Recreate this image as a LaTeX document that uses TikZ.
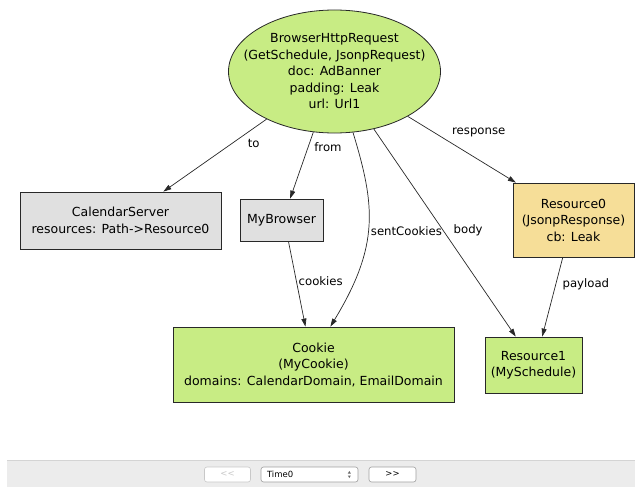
\documentclass[tikz,border=0pt]{standalone}
\usepackage{fontspec}
\setmainfont{DejaVu Sans}
\usepackage{tikz}
\usetikzlibrary{shapes.geometric, arrows.meta, positioning, calc}
\definecolor{mygreen}{RGB}{200,236,132}
\definecolor{mywheat}{RGB}{246,222,152}
\definecolor{mygray}{RGB}{224,224,224}
\definecolor{myline}{RGB}{40,40,40}
\definecolor{barfill}{RGB}{236,236,236}
\definecolor{barline}{RGB}{212,212,212}
\definecolor{btnline}{RGB}{160,160,160}
\definecolor{btnoff}{RGB}{200,200,200}
\tikzset{
  atom/.style={rectangle, draw=myline, line width=0.8pt, inner sep=0pt,
    align=center, font=\fontsize{12.5}{16.5}\selectfont},
  greenatom/.style={atom, fill=mygreen},
  grayatom/.style={atom, fill=mygray},
  wheatatom/.style={atom, fill=mywheat},
  relation/.style={-{Triangle[length=8pt,width=5pt]}, line width=0.7pt, color=myline},
  lbl/.style={font=\fontsize{11.7}{14}\selectfont, inner sep=1pt, text=black},
  btn/.style={rectangle, rounded corners=2.5pt, draw=btnline, fill=white,
    line width=0.6pt, minimum height=15pt, inner sep=0pt, font=\fontsize{8.5}{10}\selectfont}
}
\begin{document}
\begin{tikzpicture}[x=1pt, y=-1pt]
  \useasboundingbox (0,0) rectangle (635,487);

  % atoms
  \node[ellipse, draw=myline, fill=mygreen, line width=0.8pt, inner sep=0pt,
    minimum width=212pt, minimum height=123pt,
    label={[align=center, font=\fontsize{12.5}{16.5}\selectfont]center:{BrowserHttpRequest\\(GetSchedule, JsonpRequest)\\doc: AdBanner\\padding: Leak\\url: Url1}}]
    (req) at (334.5,71.5) {};
  \node[grayatom, minimum width=201pt, minimum height=57pt] (cal) at (120.5,220.5) {CalendarServer\\resources: Path->Resource0};
  \node[grayatom, minimum width=83pt, minimum height=42pt] (browser) at (281.5,220) {MyBrowser};
  \node[wheatatom, minimum width=121pt, minimum height=74pt] (res0) at (573.5,220) {Resource0\\(JsonpResponse)\\cb: Leak};
  \node[greenatom, minimum width=281pt, minimum height=75pt] (cookie) at (313.5,364.5) {Cookie\\(MyCookie)\\domains: CalendarDomain, EmailDomain};
  \node[greenatom, minimum width=97pt, minimum height=56pt] (res1) at (533.5,365) {Resource1\\(MySchedule)};

  % relations
  \draw[relation] (req) -- node[lbl, pos=0.34, right=15pt] {to} (cal.34.5);
  \draw[relation] (req) -- node[lbl, pos=0.23, right=5pt] {from} (browser.68);
  \draw[relation] (req) .. controls (375,205) and (380,245) .. node[lbl, pos=0.53, right=1.5pt] {sentCookies} (cookie.66);
  \draw[relation] (req) -- node[lbl, pos=0.49, right=9pt] {body} (res1.122);
  \draw[relation] (req) -- node[lbl, pos=0.25, right=16pt] {response} (res0.147);
  \draw[relation] (browser.-72.8) -- node[lbl, pos=0.465, right=1pt] {cookies} (cookie.102.8);
  \draw[relation] (res0.-106.6) -- node[lbl, pos=0.34, right=5.5pt] {payload} (res1.73);

  % bottom bar
  \fill[barfill] (7,460) rectangle (635,487);
  \draw[barline, line width=0.8pt] (7,460) -- (635,460);
  \node[btn, draw=btnoff, minimum width=46pt, text=btnoff] (prev) at (227.5,474.5) {<{}<};
  \node[btn, minimum width=97pt, text width=85pt, align=left] (time) at (309.5,474.5) {Time0};
  \node[btn, minimum width=47pt] (next) at (392.5,474.5) {>{}>};
  \fill[black!60] ($(time.east)+(-10.5,-1)$) -- ++(3,0) -- ++(-1.5,-2.5) -- cycle;
  \fill[black!60] ($(time.east)+(-10.5,1)$) -- ++(3,0) -- ++(-1.5,2.5) -- cycle;
\end{tikzpicture}
\end{document}
